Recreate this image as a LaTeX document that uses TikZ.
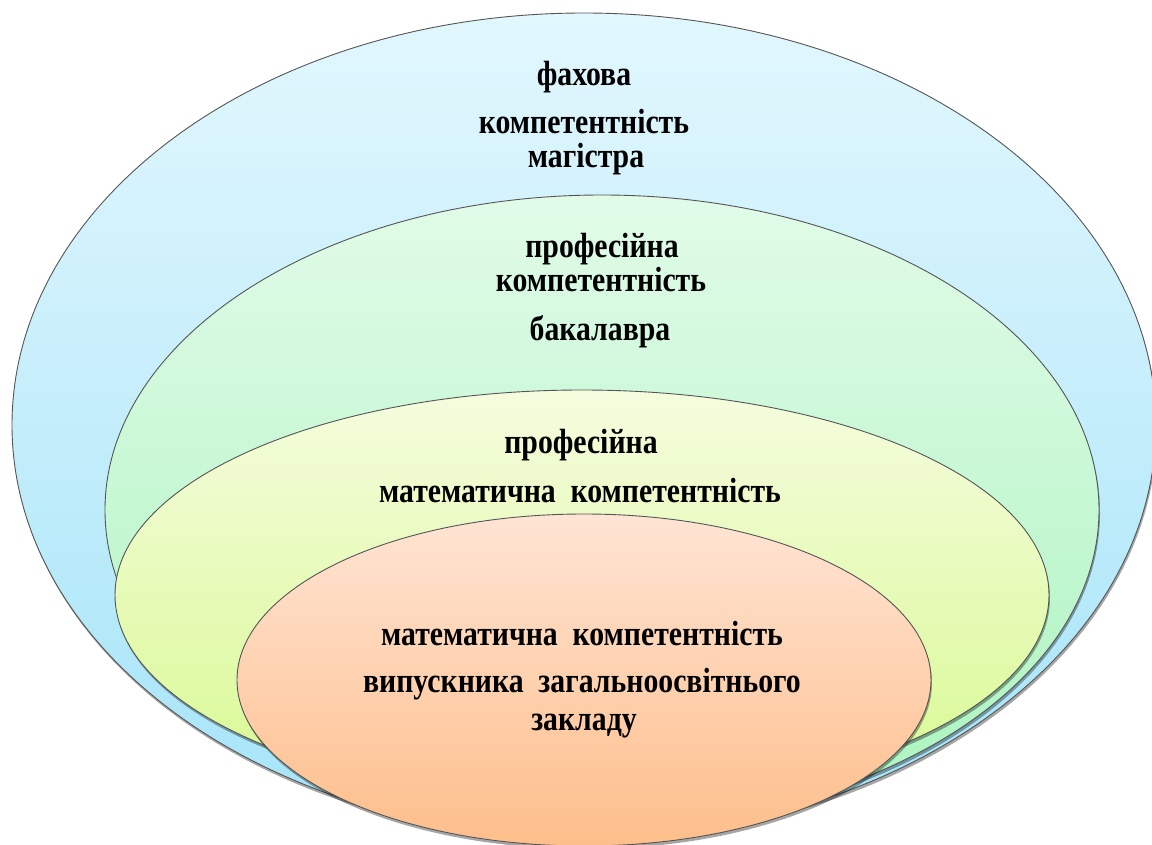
\documentclass[tikz,border=0pt]{standalone}
\usepackage{fontspec}
\setmainfont{Liberation Serif}
\newfontfamily\lblfont[FakeStretch=0.85]{Liberation Serif}
\usetikzlibrary{shadows}

\definecolor{edgegray}{RGB}{85,85,85}
\definecolor{blueTop}{RGB}{226,247,254}
\definecolor{blueBot}{RGB}{165,228,248}
\definecolor{greenTop}{RGB}{225,251,232}
\definecolor{greenBot}{RGB}{170,244,190}
\definecolor{yellowTop}{RGB}{245,252,222}
\definecolor{yellowBot}{RGB}{216,249,145}
\definecolor{orangeTop}{RGB}{255,228,212}
\definecolor{orangeBot}{RGB}{253,190,138}

\tikzset{
    ring/.style={draw=edgegray, line width=0.9pt,
        drop shadow={shadow xshift=1pt, shadow yshift=-3pt, opacity=.35, fill=black}},
    lbl/.style={anchor=base, inner sep=0pt, font=\lblfont\bfseries\fontsize{35}{37}\selectfont}
}

\begin{document}
\begin{tikzpicture}[x=1pt,y=-1pt]
        \useasboundingbox (0,0) rectangle (1152,845);

        % nested ellipses, outer to inner
        \draw[ring, top color=blueTop, bottom color=blueBot]
            (584,425) ellipse [x radius=572pt, y radius=412pt];
        \draw[ring, top color=greenTop, bottom color=greenBot]
            (602,510) ellipse [x radius=497pt, y radius=315pt];
        \draw[ring, top color=yellowTop, bottom color=yellowBot]
            (582,595) ellipse [x radius=467pt, y radius=205pt];
        \draw[ring, top color=orangeTop, bottom color=orangeBot]
            (584,680) ellipse [x radius=347pt, y radius=166pt];

        % labels
        \node[lbl] (mag1) at (584,86) {фахова};
        \node[lbl] (mag2) at (584,134) {компетентність};
        \node[lbl] (mag3) at (586,168) {магістра};

        \node[lbl] (bak1) at (602,258) {професійна};
        \node[lbl] (bak2) at (601,292) {компетентність};
        \node[lbl] (bak3) at (600,340) {бакалавра};

        \node[lbl] (pmk1) at (581,453) {професійна};
        \node[lbl] (pmk2) at (580,502) {математична~ компетентність};

        \node[lbl] (vyp1) at (582,645) {математична~ компетентність};
        \node[lbl] (vyp2) at (582,692) {випускника~ загальноосвітнього};
        \node[lbl] (vyp3) at (584,730) {закладу};
    \end{tikzpicture}
\end{document}
